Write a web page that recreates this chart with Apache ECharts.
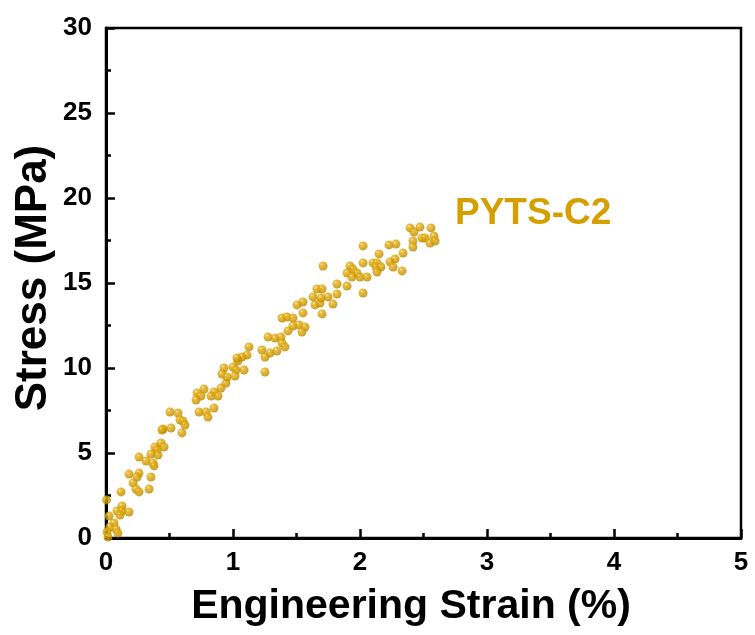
<!DOCTYPE html>
<html>
<head>
<meta charset="utf-8">
<script src="https://cdn.jsdelivr.net/npm/echarts@6/dist/echarts.min.js"></script>
<style>html,body{margin:0;padding:0;background:#fff}#c{width:755px;height:635px}</style>
</head>
<body>
<div id="c"></div>
<script>
var xTicks = [0, 1, 2, 3, 4, 5];
var yTicks = [0, 5, 10, 15, 20, 25, 30];
var seriesName = 'PYTS-C2';
var xTitle = 'Engineering Strain (%)';
var yTitle = 'Stress (MPa)';
var strain = [
  0.433,0.386,0.457,0.402,0.409,0.354,0.260,0.315,0.370,0.378,0.181,0.260,0.244,0.354,0.213,0.236,0.260,0.339,0.118,0.126,
  0.087,0.126,0.181,0.110,0.024,0.004,0.063,0.031,0.079,0.094,0.008,0.016,
  0.945,0.772,0.717,0.906,0.850,0.748,0.827,0.882,0.709,0.504,0.567,0.732,0.787,0.850,0.803,0.583,0.606,0.622,0.512,0.449,
  0.441,0.598,1.039,0.929,1.000,1.087,1.024,1.252,0.913,0.953,1.016,
  1.551,1.504,1.646,1.685,1.787,1.551,1.701,1.386,1.425,1.472,1.472,1.520,1.567,1.433,1.543,1.276,1.331,1.378,1.386,1.409,
  1.126,1.228,1.291,1.346,1.110,1.071,1.031,1.252,1.630,1.693,1.748,1.819,
  2.024,2.228,2.283,2.150,2.339,2.276,2.236,1.709,1.921,2.024,2.102,2.134,1.898,1.945,2.126,2.165,2.260,2.331,1.976,2.134,
  1.937,2.000,2.055,1.819,1.898,1.661,1.701,2.024,2.394,2.472,2.559,2.425,2.583,2.488,2.512,2.417,2.551,2.591,2.417
];
var stress = [
  5.59,5.35,5.35,5.18,4.88,4.94,4.76,4.53,4.41,4.24,3.76,3.82,3.59,3.59,3.24,2.88,2.71,2.88,2.71,1.88,
  1.59,1.59,1.53,1.35,1.29,2.24,0.88,0.65,0.53,0.29,0.35,0.06,
  9.12,8.76,8.53,8.82,8.59,8.35,8.35,8.35,8.12,7.41,7.35,7.41,7.41,7.65,7.12,6.94,6.88,6.65,6.47,6.41,
  6.35,6.18,10.41,10.00,10.06,9.88,9.88,9.76,9.65,9.47,9.53,
  13.88,13.71,13.71,13.82,13.76,13.24,13.18,12.94,13.00,12.94,12.47,12.53,12.41,12.18,12.12,11.82,11.76,11.82,11.47,11.24,
  11.24,11.06,10.88,11.00,10.76,10.65,10.59,10.65,14.18,14.12,14.18,14.35,
  17.18,17.24,17.29,16.71,16.76,16.41,16.24,16.00,16.00,16.18,16.18,16.18,15.59,15.82,15.94,15.94,15.94,15.71,15.59,15.65,
  15.35,15.35,15.35,14.94,14.82,14.65,14.65,14.41,18.24,18.29,18.24,18.00,17.76,17.65,17.65,17.47,17.35,17.47,17.12
];
var points = strain.map(function (x, i) { return [x, stress[i]]; });

var chart = echarts.init(document.getElementById('c'), null, {renderer: 'canvas'});
var font = 'Liberation Sans, Arial, Helvetica, sans-serif';
var ballColor = new echarts.graphic.RadialGradient(0.36, 0.32, 0.75, [
  {offset: 0, color: '#FFF0C0'},
  {offset: 0.18, color: '#E6B01E'},
  {offset: 0.55, color: '#D39E00'},
  {offset: 1, color: '#B08200'}
]);
var axisCommon = {
  axisLine: {show: true, lineStyle: {color: '#000', width: 3}},
  axisTick: {show: true, inside: true, length: 9, lineStyle: {color: '#000', width: 2.5}},
  minorTick: {show: true, splitNumber: 2, length: 5, lineStyle: {color: '#000', width: 2.5}},
  splitLine: {show: false},
  axisLabel: {color: '#000', fontFamily: font, fontWeight: 'bold', fontSize: 26}
};
chart.setOption({
  animation: false,
  backgroundColor: '#fff',
  grid: {left: 106, right: 14, top: 28, bottom: 97, show: true, borderColor: '#000', borderWidth: 2.5, backgroundColor: 'transparent'},
  xAxis: Object.assign({}, axisCommon, {
    type: 'value', min: xTicks[0], max: xTicks[xTicks.length - 1], interval: 1,
    axisLabel: Object.assign({}, axisCommon.axisLabel, {margin: 12})
  }),
  yAxis: Object.assign({}, axisCommon, {
    type: 'value', min: yTicks[0], max: yTicks[yTicks.length - 1], interval: 5,
    axisLabel: Object.assign({}, axisCommon.axisLabel, {margin: 14})
  }),
  graphic: [{
    type: 'text', left: 455, top: 195,
    style: {text: seriesName, fill: '#D4A000', font: 'bold 37px ' + font}
  }, {
    type: 'text', x: 411, y: 607,
    style: {text: xTitle, fill: '#000', font: 'bold 41px ' + font, textAlign: 'center', textVerticalAlign: 'middle'}
  }, {
    type: 'text', x: 34, y: 278, rotation: Math.PI / 2,
    style: {text: yTitle, fill: '#000', font: 'bold 44px ' + font, textAlign: 'center', textVerticalAlign: 'middle'}
  }],
  series: [{
    name: seriesName, type: 'scatter', data: points, symbol: 'circle', symbolSize: 9,
    itemStyle: {color: ballColor}, z: 3
  }]
});
</script>
</body>
</html>
